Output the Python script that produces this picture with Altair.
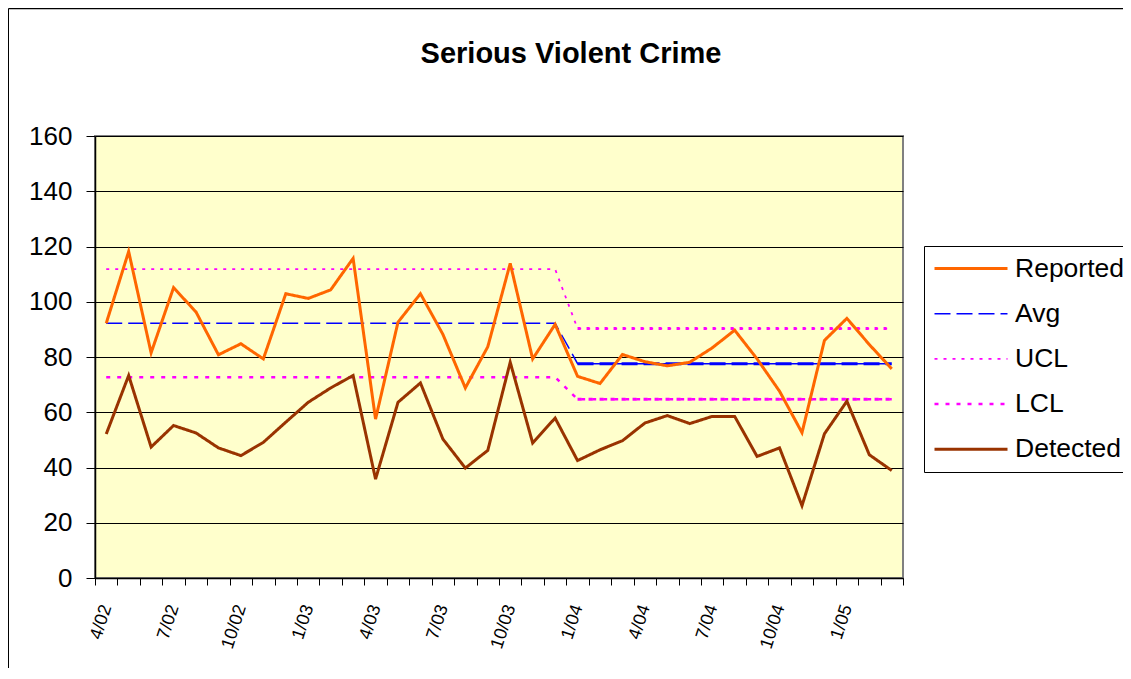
import json
import altair as alt
import pandas as pd

months = ["4/02", "5/02", "6/02", "7/02", "8/02", "9/02", "10/02", "11/02", "12/02",
          "1/03", "2/03", "3/03", "4/03", "5/03", "6/03", "7/03", "8/03", "9/03",
          "10/03", "11/03", "12/03", "1/04", "2/04", "3/04", "4/04", "5/04", "6/04",
          "7/04", "8/04", "9/04", "10/04", "11/04", "12/04", "1/05", "2/05", "3/05"]
shown_labels = ["4/02", "7/02", "10/02", "1/03", "4/03", "7/03", "10/03",
                "1/04", "4/04", "7/04", "10/04", "1/05"]

reported = [92.2, 118.2, 81.5, 105.1, 96.3, 80.8, 84.8, 79.3, 102.9, 101.2,
            104.3, 115.7, 57.5, 92.6, 102.9, 88.2, 68.8, 83.7, 113.9, 79.3,
            91.8, 73.0, 70.4, 80.9, 78.3, 76.8, 78.1, 83.3, 89.7, 79.3,
            67.6, 52.6, 86.0, 94.0, 84.5, 75.7]
detected = [52.1, 73.3, 47.4, 55.2, 52.5, 47.1, 44.3, 49.1, 56.4, 63.6,
            68.8, 73.3, 35.8, 63.6, 70.6, 50.3, 39.8, 46.2, 78.1, 48.9,
            57.9, 42.5, 46.4, 49.7, 56.1, 58.8, 55.9, 58.5, 58.5, 44.0,
            47.1, 26.2, 52.2, 64.0, 44.6, 38.9]
avg = [92.2, 92.2, 92.2, 92.2, 92.2, 92.2, 92.2, 92.2, 92.2, 92.2,
       92.2, 92.2, 92.2, 92.2, 92.2, 92.2, 92.2, 92.2, 92.2, 92.2,
       92.2, 77.6, 77.6, 77.6, 77.6, 77.6, 77.6, 77.6, 77.6, 77.6,
       77.6, 77.6, 77.6, 77.6, 77.6, 77.6]
ucl = [111.8, 111.8, 111.8, 111.8, 111.8, 111.8, 111.8, 111.8, 111.8, 111.8,
       111.8, 111.8, 111.8, 111.8, 111.8, 111.8, 111.8, 111.8, 111.8, 111.8,
       111.8, 90.3, 90.3, 90.3, 90.3, 90.3, 90.3, 90.3, 90.3, 90.3,
       90.3, 90.3, 90.3, 90.3, 90.3, 90.3]
lcl = [72.7, 72.7, 72.7, 72.7, 72.7, 72.7, 72.7, 72.7, 72.7, 72.7,
       72.7, 72.7, 72.7, 72.7, 72.7, 72.7, 72.7, 72.7, 72.7, 72.7,
       72.7, 64.7, 64.7, 64.7, 64.7, 64.7, 64.7, 64.7, 64.7, 64.7,
       64.7, 64.7, 64.7, 64.7, 64.7, 64.7]
second_period_start = 21

series_order = ["Reported", "Avg", "UCL", "LCL", "Detected"]
series_colors = ["#FF6600", "#0000FF", "#FF00FF", "#FF00FF", "#993300"]
series_dashes = [[1, 0], [16, 6], [3, 6], [4, 7], [1, 0]]
series_widths = [3, 1.5, 1.8, 2.5, 3]

FONT = "Liberation Sans"


def long_df(pairs, start=0):
    rows = []
    for name, vals in pairs:
        for i, (m, v) in enumerate(zip(months, vals)):
            if i >= start:
                rows.append({"month": m, "series": name, "value": v})
    return pd.DataFrame(rows)


df_data = long_df([("Reported", reported), ("Detected", detected)])
df_ctrl = long_df([("Avg", avg), ("UCL", ucl), ("LCL", lcl)])
df_ctrl2 = long_df([("Avg", avg), ("UCL", ucl), ("LCL", lcl)], start=second_period_start)

label_expr = "indexof(" + json.dumps(shown_labels) + ", datum.label) >= 0 ? datum.label : ''"

x_enc = alt.X(
    "month:O", sort=months,
    scale=alt.Scale(type="band", paddingInner=0, paddingOuter=0),
    axis=alt.Axis(title=None, tickBand="extent", labelAngle=-72, labelFontSize=18,
                  labelFont=FONT, labelColor="black", labelExpr=label_expr,
                  labelOverlap=False, tickSize=7, tickColor="black", tickWidth=1,
                  domainColor="black", domainWidth=1.5, labelPadding=20, grid=False),
)
y_enc = alt.Y(
    "value:Q",
    scale=alt.Scale(domain=[0, 160], nice=False),
    axis=alt.Axis(title=None, values=[0, 20, 40, 60, 80, 100, 120, 140, 160],
                  labelFontSize=26, labelFont=FONT, labelColor="black",
                  tickSize=9, tickColor="black", domainColor="black", domainWidth=1.5,
                  labelPadding=14, grid=True, gridColor="black", gridWidth=1,
                  gridOpacity=1),
)

legend = alt.Legend(
    title=None, orient="none", legendX=829, legendY=110,
    symbolType="stroke", symbolSize=5329, clipHeight=27, rowPadding=18.2,
    labelFontSize=26.5, labelFont=FONT, labelColor="black", labelOffset=6,
    padding=9, strokeColor="black", fillColor="white", labelLimit=400,
)

color_enc = alt.Color("series:N", scale=alt.Scale(domain=series_order, range=series_colors),
                      legend=legend)
dash_enc = alt.StrokeDash("series:N", scale=alt.Scale(domain=series_order, range=series_dashes),
                          legend=legend)
width_enc = alt.StrokeWidth("series:N",
                            scale=alt.Scale(type="ordinal", domain=series_order,
                                            range=series_widths),
                            legend=legend)

ctrl_thin = alt.Chart(df_ctrl).mark_line().encode(
    x=x_enc, y=y_enc, color=color_enc, strokeDash=dash_enc, strokeWidth=width_enc)
ctrl_thick = alt.Chart(df_ctrl2).mark_line(strokeWidth=3).encode(
    x=x_enc, y=y_enc, color=color_enc, strokeDash=dash_enc)
data_lines = alt.Chart(df_data).mark_line().encode(
    x=x_enc, y=y_enc, color=color_enc, strokeDash=dash_enc, strokeWidth=width_enc)

border_df = pd.DataFrame({"a": [1]})
border_left = alt.Chart(border_df).mark_rule(color="black", strokeWidth=1).encode(
    x=alt.value(-86.5), y=alt.value(-127.5), y2=alt.value(532))
border_top = alt.Chart(border_df).mark_rule(color="black", strokeWidth=1.5).encode(
    x=alt.value(-86.5), x2=alt.value(1028), y=alt.value(-127.5))

chart = alt.layer(ctrl_thin, ctrl_thick, data_lines, border_left, border_top).properties(
    width=808, height=442,
    autosize=alt.AutoSizeParams(type="none"),
    padding={"left": 87, "top": 128, "right": 220, "bottom": 90},
    background="white",
    title=alt.Title("Serious Violent Crime", fontSize=29, font=FONT, fontWeight="bold",
                    color="black", anchor="middle", dx=72, dy=84, offset=0,
                    baseline="alphabetic"),
).configure_view(fill="#FFFFCC", stroke="#808080", strokeWidth=2)

chart.save("out.html", embed_options={"renderer": "svg", "actions": False})
